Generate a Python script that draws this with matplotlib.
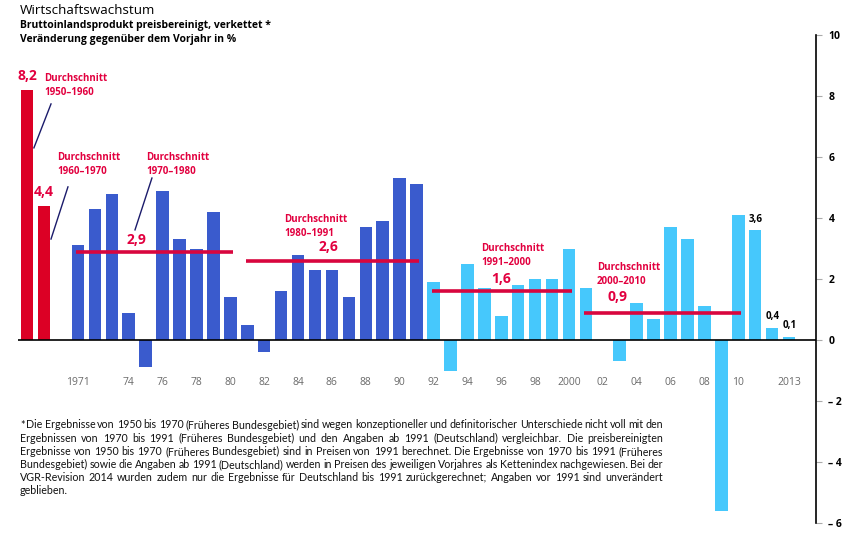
import matplotlib
matplotlib.use("Agg")
import matplotlib.pyplot as plt
import numpy as np

# ---------------- data ----------------
early_years = ["1950", "1960"]
early_values = [8.2, 4.4]
years = list(range(1971, 2014))
values = [3.1, 4.3, 4.8, 0.9, -0.9, 4.9, 3.3, 3.0, 4.2, 1.4,
          0.5, -0.4, 1.6, 2.8, 2.3, 2.3, 1.4, 3.7, 3.9, 5.3,
          5.1, 1.9, -1.0, 2.5, 1.7, 0.8, 1.8, 2.0, 2.0, 3.0,
          1.7, 0.0, -0.7, 1.2, 0.7, 3.7, 3.3, 1.1, -5.6, 4.1,
          3.6, 0.4, 0.1]
avg_labels = ["1970–1980", "1980–1991", "1991–2000", "2000–2010"]
avg_values = [2.9, 2.6, 1.6, 0.9]
avg_start = [1971, 1981, 1992, 2001]
avg_end = [1980, 1991, 2000, 2010]
xtick_years = [1971, 1974, 1976, 1978, 1980, 1982, 1984, 1986, 1988, 1990,
               1992, 1994, 1996, 1998, 2000, 2002, 2004, 2006, 2008, 2010, 2013]
xtick_labels = ["1971", "74", "76", "78", "80", "82", "84", "86", "88", "90",
                "92", "94", "96", "98", "2000", "02", "04", "06", "08", "10", "2013"]
yticks = [10, 8, 6, 4, 2, 0, -2, -4, -6]
ytick_labels = ["10", "8", "6", "4", "2", "0", "– 2", "– 4", "– 6"]
end_labels = {2011: "3,6", 2012: "0,4", 2013: "0,1"}

RED = "#DC0025"
DARK = "#3A5BCD"
LIGHT = "#46C8FC"
AVG = "#D8063E"
TXT_RED = "#E2003F"

FONT = ["Open Sans", "DejaVu Sans"]
plt.rcParams["font.family"] = FONT

fig = plt.figure(figsize=(8.53, 5.6), dpi=100)
W, H = 853, 560
ax = fig.add_axes([18 / W, (H - 523) / H, (816 - 18) / W, (523 - 35) / H])

idx = np.array([y - 1971 for y in years])
colors = [DARK if y <= 1991 else LIGHT for y in years]
bw = 0.74
ax.bar(idx, values, width=bw, color=colors, zorder=2)
early_idx = np.array([-3, -2])
ax.bar(early_idx, early_values, width=bw, color=RED, zorder=2)

ax.set_xlim(-3.54, 43.59)
ax.set_ylim(-6, 10)
ax.axhline(0, color="black", lw=1.2, zorder=3)

# averages
for lab, v, s, e in zip(avg_labels, avg_values, avg_start, avg_end):
    x0 = s - 1971 - 0.1
    x1 = e - 1971 + 0.15
    ax.plot([x0, x1], [v, v], color=AVG, lw=2.6, solid_capstyle="butt", zorder=4)

# early value labels
for xi, v in zip(early_idx, early_values):
    ax.annotate(f"{v:.1f}".replace(".", ","), (xi, v), xytext=(0, 5),
                textcoords="offset points", ha="center", va="bottom",
                color=TXT_RED, fontsize=10, fontweight="bold")

# end value labels
for yr, lab in end_labels.items():
    i = yr - 1971
    ax.annotate(lab, (i - bw / 2, values[i]), xytext=(0, 4),
                textcoords="offset points", ha="left", va="bottom",
                color="black", fontsize=7, fontweight="bold")

# Durchschnitt labels
durch = [("1950–1960", -2.0, 8.75), ("1960–1970", -1.24, 6.16),
         ("1970–1980", 4.02, 6.16), ("1980–1991", 12.17, 4.13),
         ("1991–2000", 23.8, 3.18), ("2000–2010", 30.66, 2.56)]
for lab, x, y in durch:
    ax.text(x, y, "Durchschnitt\n" + lab, color=TXT_RED, fontsize=7,
            fontweight="bold", ha="left", va="top", linespacing=1.35)

avg_num_pos = [(3.43, 3.28), (14.77, 3.05), (24.99, 2.0), (31.84, 1.41)]
for v, (x, y) in zip(avg_values, avg_num_pos):
    ax.text(x, y, f"{v:.1f}".replace(".", ","), color=TXT_RED, fontsize=10,
            fontweight="bold", ha="center", va="center")

# leader lines
leaders = [((-1.59, 7.74), (-2.60, 6.30)),
           ((-0.59, 5.02), (-1.59, 3.31)),
           ((4.37, 5.31), (3.37, 3.61))]
for (xa, ya), (xb, yb) in leaders:
    ax.plot([xa, xb], [ya, yb], color="#1b1b6b", lw=1.0, zorder=5)

# x labels
for yr, lab in zip(xtick_years, xtick_labels):
    ax.text(yr - 1971, -1.38, lab, color="#6a6a6a", fontsize=7.5,
            ha="center", va="center")
ax.set_xticks([])

# right axis
for s in ["left", "top", "bottom"]:
    ax.spines[s].set_visible(False)
ax.spines["right"].set_color("black")
ax.spines["right"].set_linewidth(1.2)
ax.yaxis.tick_right()
ax.set_yticks(yticks)
ax.set_yticklabels(ytick_labels)
ax.tick_params(axis="y", direction="out", length=4, color="#aaaaaa",
               labelsize=7.5, pad=5)
for t in ax.get_yticklabels():
    t.set_fontweight("bold")

# titles
fig.text(20 / W, 1 - 4 / H, "Wirtschaftswachstum", fontsize=9.7,
         ha="left", va="top", color="black")
fig.text(20 / W, 1 - 20 / H, "Bruttoinlandsprodukt preisbereinigt, verkettet *",
         fontsize=7.5, fontweight="bold", ha="left", va="top")
fig.text(20 / W, 1 - 34 / H, "Veränderung gegenüber dem Vorjahr in %",
         fontsize=7.5, fontweight="bold", ha="left", va="top")

# footnote (justified)
foot = [
    "* Die Ergebnisse von 1950 bis 1970 (Früheres Bundesgebiet) sind wegen konzeptioneller und definitorischer Unterschiede nicht voll mit den",
    "Ergebnissen von 1970 bis 1991 (Früheres Bundesgebiet) und den Angaben ab 1991 (Deutschland) vergleichbar. Die preisbereinigten",
    "Ergebnisse von 1950 bis 1970 (Früheres Bundesgebiet) sind in Preisen von 1991 berechnet. Die Ergebnisse von 1970 bis 1991 (Früheres",
    "Bundesgebiet) sowie die Angaben ab 1991 (Deutschland) werden in Preisen des jeweiligen Vorjahres als Kettenindex nachgewiesen. Bei der",
    "VGR-Revision 2014 wurden zudem nur die Ergebnisse für Deutschland bis 1991 zurückgerechnet; Angaben vor 1991 sind unverändert",
    "geblieben.",
]
FOOT_FONT = ["Lato", "DejaVu Sans"]
FS = 7.7
renderer = fig.canvas.get_renderer()
x_left, x_right = 20, 663
y0, dy = 425, 13.2
sp = fig.text(0, 0, "a a", fontsize=FS, family=FOOT_FONT)
sp2 = fig.text(0, 0, "aa", fontsize=FS, family=FOOT_FONT)
space_w = sp.get_window_extent(renderer).width - sp2.get_window_extent(renderer).width
sp.remove(); sp2.remove()
for li, line in enumerate(foot):
    words = line.split(" ")
    ypix = y0 + li * dy
    objs = [fig.text(0, 1 - ypix / H, w, fontsize=FS, family=FOOT_FONT,
                     ha="left", va="center", color="#111111") for w in words]
    widths = [o.get_window_extent(renderer).width for o in objs]
    if li < len(foot) - 1 and len(words) > 1:
        gap = (x_right - x_left - sum(widths)) / (len(words) - 1)
    else:
        gap = space_w
    xp = x_left
    for o, w in zip(objs, widths):
        o.set_x(xp / W)
        xp += w + gap

fig.savefig("out.png", dpi=100)
